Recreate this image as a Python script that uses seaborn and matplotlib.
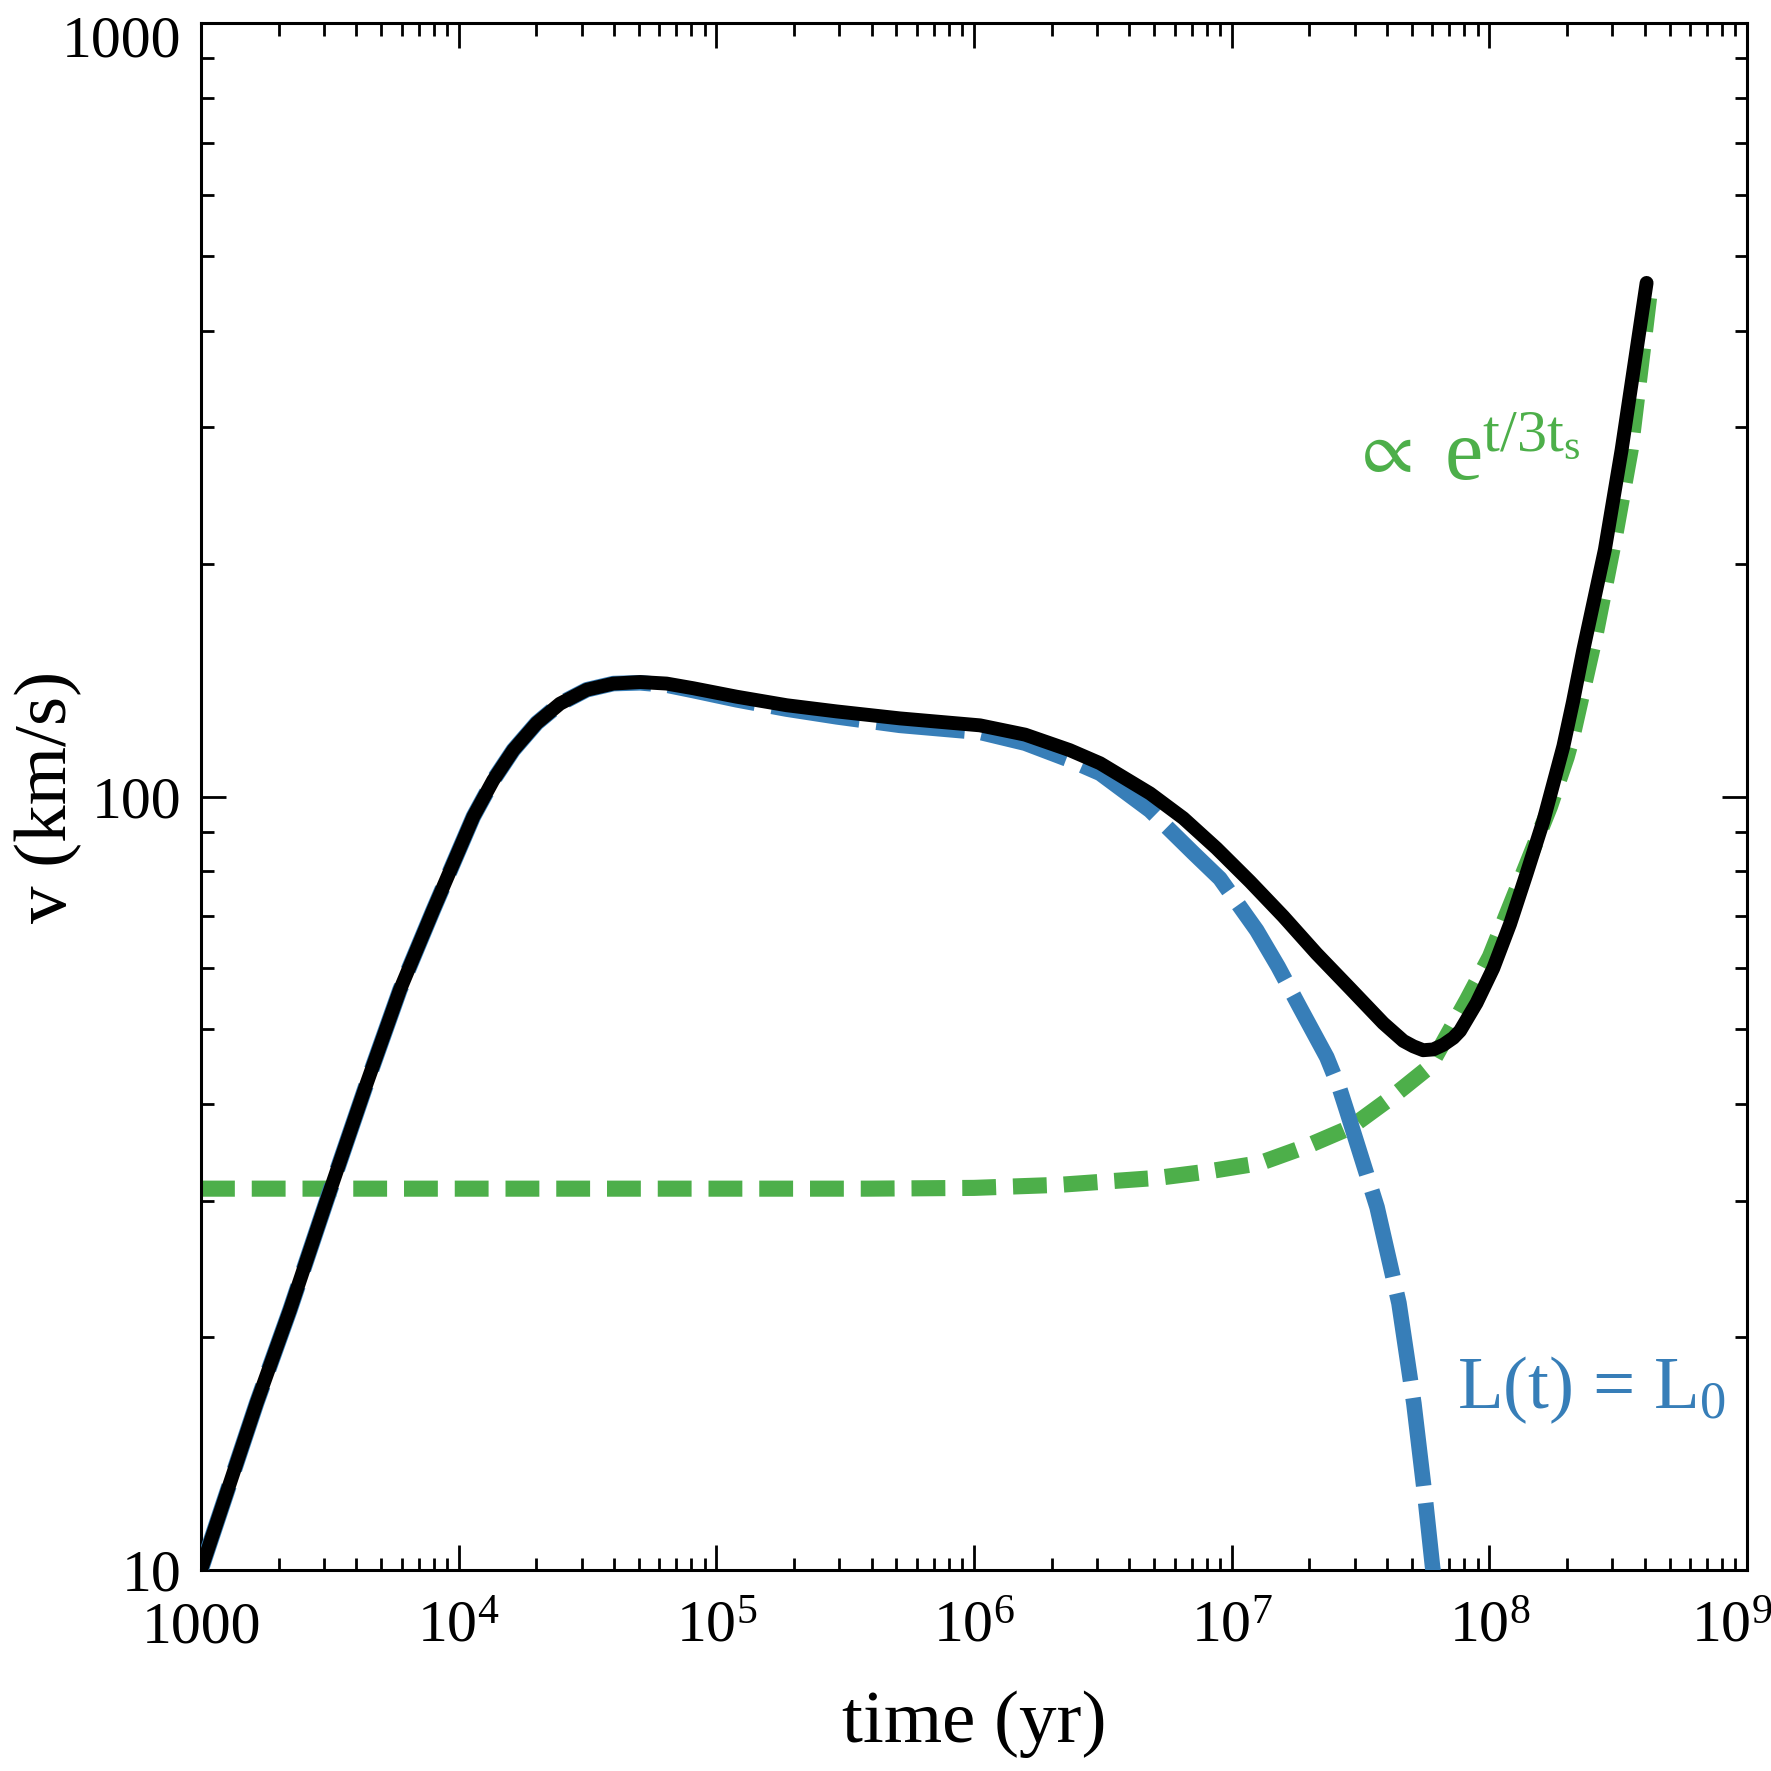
import numpy as np
import pandas as pd
import matplotlib
matplotlib.use("Agg")
import matplotlib.pyplot as plt
import matplotlib.transforms as mtransforms
from matplotlib.ticker import NullFormatter
import seaborn as sns

# values, stored as log10(time / yr) and log10(v / km s^-1)
black_log_t = [3.000, 3.216, 3.345, 3.488, 3.643, 3.772, 3.901, 4.057, 4.134, 4.212,
               4.303, 4.393, 4.497, 4.600, 4.704, 4.807, 4.910, 5.079, 5.273, 5.467,
               5.712, 6.023, 6.198, 6.371, 6.489, 6.683, 6.812, 6.941, 7.071, 7.200,
               7.329, 7.459, 7.588, 7.666, 7.705, 7.743, 7.782, 7.821, 7.860, 7.886,
               7.950, 8.015, 8.080, 8.144, 8.209, 8.287, 8.324, 8.364, 8.448, 8.513,
               8.610]
black_log_v = [1.000, 1.216, 1.336, 1.478, 1.629, 1.750, 1.853, 1.974, 2.021, 2.060,
               2.095, 2.120, 2.138, 2.146, 2.148, 2.146, 2.140, 2.129, 2.118, 2.110,
               2.101, 2.092, 2.080, 2.060, 2.043, 2.004, 1.972, 1.933, 1.890, 1.845,
               1.797, 1.752, 1.707, 1.684, 1.677, 1.672, 1.673, 1.679, 1.688, 1.697,
               1.733, 1.778, 1.835, 1.900, 1.968, 2.065, 2.122, 2.189, 2.319, 2.448,
               2.664]

# constant luminosity model, L(t) = L0
blue_log_t = [3.000, 3.216, 3.345, 3.488, 3.643, 3.772, 3.901, 4.057, 4.134, 4.212,
              4.303, 4.393, 4.497, 4.600, 4.704, 4.807, 4.910, 5.079, 5.273, 5.467,
              5.712, 6.023, 6.198, 6.372, 6.489, 6.683, 6.851, 6.954, 7.097, 7.180,
              7.265, 7.369, 7.420, 7.447, 7.564, 7.649, 7.707, 7.753, 7.779, 7.785]
blue_log_v = [1.000, 1.216, 1.336, 1.478, 1.629, 1.750, 1.853, 1.974, 2.021, 2.060,
              2.095, 2.120, 2.138, 2.146, 2.147, 2.144, 2.137, 2.125, 2.113, 2.103,
              2.092, 2.083, 2.069, 2.047, 2.030, 1.982, 1.927, 1.894, 1.827, 1.780,
              1.727, 1.663, 1.621, 1.593, 1.469, 1.345, 1.215, 1.086, 1.005, 0.990]

# exponential branch, prop. to exp(t / 3 t_s)
green_log_t = [3.000, 4.000, 5.000, 5.588, 6.000, 6.333, 6.714, 6.904, 7.109, 7.292,
               7.460, 7.616, 7.769, 7.913, 8.002, 8.080, 8.157, 8.235, 8.300, 8.324,
               8.413, 8.490, 8.548, 8.595, 8.625]
green_log_v = [1.493, 1.493, 1.493, 1.493, 1.494, 1.498, 1.507, 1.515, 1.526, 1.548,
               1.572, 1.610, 1.651, 1.737, 1.793, 1.858, 1.922, 1.987, 2.051, 2.080,
               2.211, 2.341, 2.448, 2.577, 2.660]

x_ticks = [1e3, 1e4, 1e5, 1e6, 1e7, 1e8, 1e9]
x_tick_labels = ["1000", r"$\mathrm{10^{4}}$", r"$\mathrm{10^{5}}$", r"$\mathrm{10^{6}}$",
                 r"$\mathrm{10^{7}}$", r"$\mathrm{10^{8}}$", r"$\mathrm{10^{9}}$"]
y_ticks = [10, 100, 1000]
y_tick_labels = ["10", "100", "1000"]

blue = "#377eb8"
green = "#4daf4a"

sns.set_style("ticks")
plt.rcParams["font.family"] = ["Liberation Serif", "DejaVu Serif"]
plt.rcParams["mathtext.fontset"] = "custom"
plt.rcParams["mathtext.rm"] = "Liberation Serif"
plt.rcParams["mathtext.it"] = "Liberation Serif:italic"
plt.rcParams["mathtext.bf"] = "Liberation Serif:bold"
plt.rcParams["mathtext.fallback"] = "stix"
plt.rcParams["text.color"] = "black"
plt.rcParams["axes.labelcolor"] = "black"
plt.rcParams["xtick.color"] = "black"
plt.rcParams["ytick.color"] = "black"

black_df = pd.DataFrame({"t": 10 ** np.array(black_log_t), "v": 10 ** np.array(black_log_v)})
blue_df = pd.DataFrame({"t": 10 ** np.array(blue_log_t), "v": 10 ** np.array(blue_log_v)})
green_df = pd.DataFrame({"t": 10 ** np.array(green_log_t), "v": 10 ** np.array(green_log_v)})

fig = plt.figure(figsize=(8.855, 8.855), dpi=200)
ax = fig.add_axes([0.1135, 0.1135, 0.873, 0.8735])
ax.set_xscale("log")
ax.set_yscale("log")

sns.lineplot(data=green_df, x="t", y="v", ax=ax, color=green, linewidth=5.8,
             linestyle=(0, (2.1, 1.05)), sort=False, estimator=None, zorder=2)
sns.lineplot(data=blue_df, x="t", y="v", ax=ax, color=blue, linewidth=5.6,
             linestyle=(0, (5.7, 1.1)), sort=False, estimator=None, zorder=3)
sns.lineplot(data=black_df, x="t", y="v", ax=ax, color="black", linewidth=5.0,
             sort=False, estimator=None, zorder=4)

ax.set_xlim(1e3, 1e9)
ax.set_ylim(10, 1000)

ax.set_xticks(x_ticks)
ax.set_xticklabels(x_tick_labels)
ax.set_yticks(y_ticks)
ax.set_yticklabels(y_tick_labels)
ax.xaxis.set_minor_formatter(NullFormatter())
ax.yaxis.set_minor_formatter(NullFormatter())

for side in ["left", "right", "top", "bottom"]:
    ax.spines[side].set_linewidth(1.1)
    ax.spines[side].set_color("black")

ax.tick_params(which="both", direction="in", top=True, right=True, width=1.0,
               color="black", labelcolor="black")
ax.tick_params(which="major", length=9)
ax.tick_params(which="minor", length=4.5)
ax.tick_params(axis="x", which="major", labelsize=21.5, pad=26)
ax.tick_params(axis="y", which="major", labelsize=21.5, pad=7)

for lab in ax.get_xticklabels():
    lab.set_verticalalignment("baseline")

# keep the edge labels inside the figure, as in the original
xl = ax.get_xticklabels()[-1]
xl.set_transform(xl.get_transform() + mtransforms.ScaledTranslation(-15 / 200, 0, fig.dpi_scale_trans))
yl = ax.get_yticklabels()[-1]
yl.set_transform(yl.get_transform() + mtransforms.ScaledTranslation(0, -13 / 200, fig.dpi_scale_trans))

ax.set_xlabel("time (yr)", fontsize=27)
ax.set_ylabel("v (km/s)", fontsize=27)
ax.xaxis.set_label_coords(0.5, -0.078)
ax.yaxis.set_label_coords(-0.077, 0.5)

ax.text(10 ** 7.874, 10 ** 1.209, "L(t) = L$_0$", color=blue, fontsize=27,
        ha="left", va="baseline")
ax.text(10 ** 7.463, 10 ** 2.419, r"$\propto$", color=green, fontsize=27,
        ha="left", va="baseline")
ax.text(10 ** 7.825, 10 ** 2.409, r"e$^{\mathrm{t/3t_s}}$", color=green, fontsize=31,
        ha="left", va="baseline")

fig.savefig("out.png", dpi=200)
